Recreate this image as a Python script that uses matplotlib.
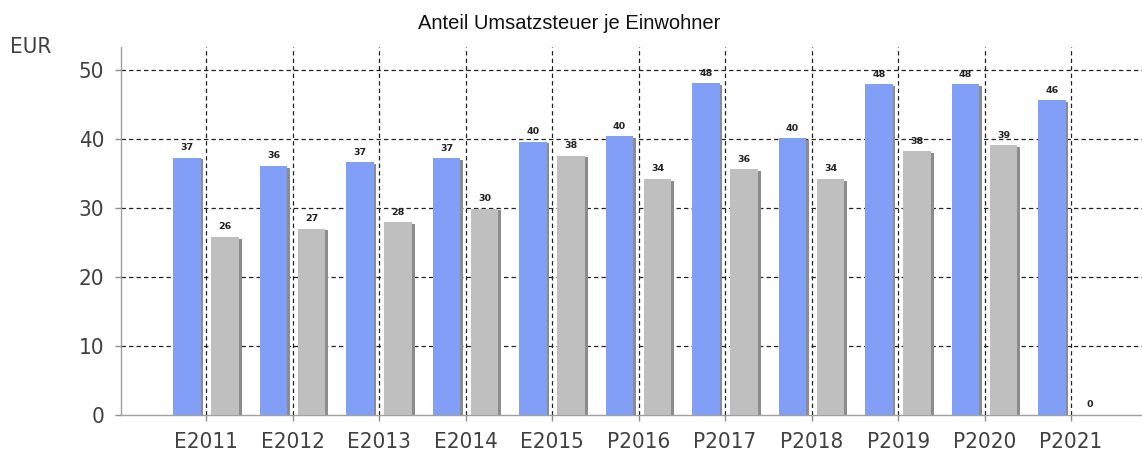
import numpy as np
import matplotlib
matplotlib.use("Agg")
import matplotlib.pyplot as plt

# --- data ---
categories = ["E2011", "E2012", "E2013", "E2014", "E2015", "P2016",
              "P2017", "P2018", "P2019", "P2020", "P2021"]
blue_vals = [37.3, 36.1, 36.6, 37.2, 39.6, 40.4, 48.1, 40.1, 47.9, 47.9, 45.6]
gray_vals = [25.8, 27.0, 27.9, 29.9, 37.6, 34.2, 35.6, 34.2, 38.2, 39.1, 0.0]
y_ticks = [0, 10, 20, 30, 40, 50]

BLUE = "#819ff7"
GRAY = "#bfbfbf"
SHADOW = "#8c8c8c"
TICK_FONT = {"family": "DejaVu Sans", "stretch": "condensed"}

fig = plt.figure(figsize=(11.42, 4.54), dpi=100)
ax = fig.add_axes([0.106, 0.086, 0.894, 0.81])

x = np.arange(len(categories))
width = 0.32
offset = 0.22
sh = 0.03  # shadow shift

# shadows first, then the bars on top
for vals, dx in ((blue_vals, -offset), (gray_vals, offset)):
    v = np.array(vals)
    ax.bar(x + dx + sh, np.clip(v - 0.25, 0, None), width, color=SHADOW,
           zorder=2, linewidth=0)
ax.bar(x - offset, blue_vals, width, color=BLUE, zorder=3, linewidth=0)
ax.bar(x + offset, gray_vals, width, color=GRAY, zorder=3, linewidth=0)

for vals, dx in ((blue_vals, -offset), (gray_vals, offset)):
    for xi, v in zip(x, vals):
        ax.annotate(f"{round(v):d}", (xi + dx, v), xytext=(0, 4),
                    textcoords="offset points", ha="center", va="bottom",
                    fontsize=6.8, fontweight="bold", color="#222222",
                    zorder=5)

ax.set_xlim(-0.983, 10.82)
ax.set_ylim(0, 53.3)

# grid
for yv in y_ticks[1:]:
    ax.axhline(yv, color="#222222", lw=0.9, ls=(0, (3.5, 2.5)), zorder=1)
for xi in x:
    ax.axvline(xi, color="#222222", lw=0.9, ls=(0, (3.5, 2.5)), zorder=1)

ax.set_xticks(x)
ax.set_xticklabels(categories, fontsize=16, color="#404040", **TICK_FONT)
ax.set_yticks(y_ticks)
ax.set_yticklabels([str(t) for t in y_ticks], fontsize=16, color="#404040",
                   **TICK_FONT)
ax.tick_params(axis="both", colors="#909090", labelcolor="#404040",
               length=4, width=1)
ax.tick_params(axis="x", pad=8)
ax.tick_params(axis="y", pad=8)

for s in ("top", "right"):
    ax.spines[s].set_visible(False)
for s in ("left", "bottom"):
    ax.spines[s].set_color("#a0a0a0")
    ax.spines[s].set_linewidth(1)

fig.text(0.0088, 0.896, "EUR", fontsize=16, color="#404040",
         ha="left", va="center", **TICK_FONT)
fig.text(0.498, 0.948, "Anteil Umsatzsteuer je Einwohner",
         fontsize=14.5, family="Liberation Sans", color="#111111",
         ha="center", va="center")

fig.savefig("out.png", dpi=100)
